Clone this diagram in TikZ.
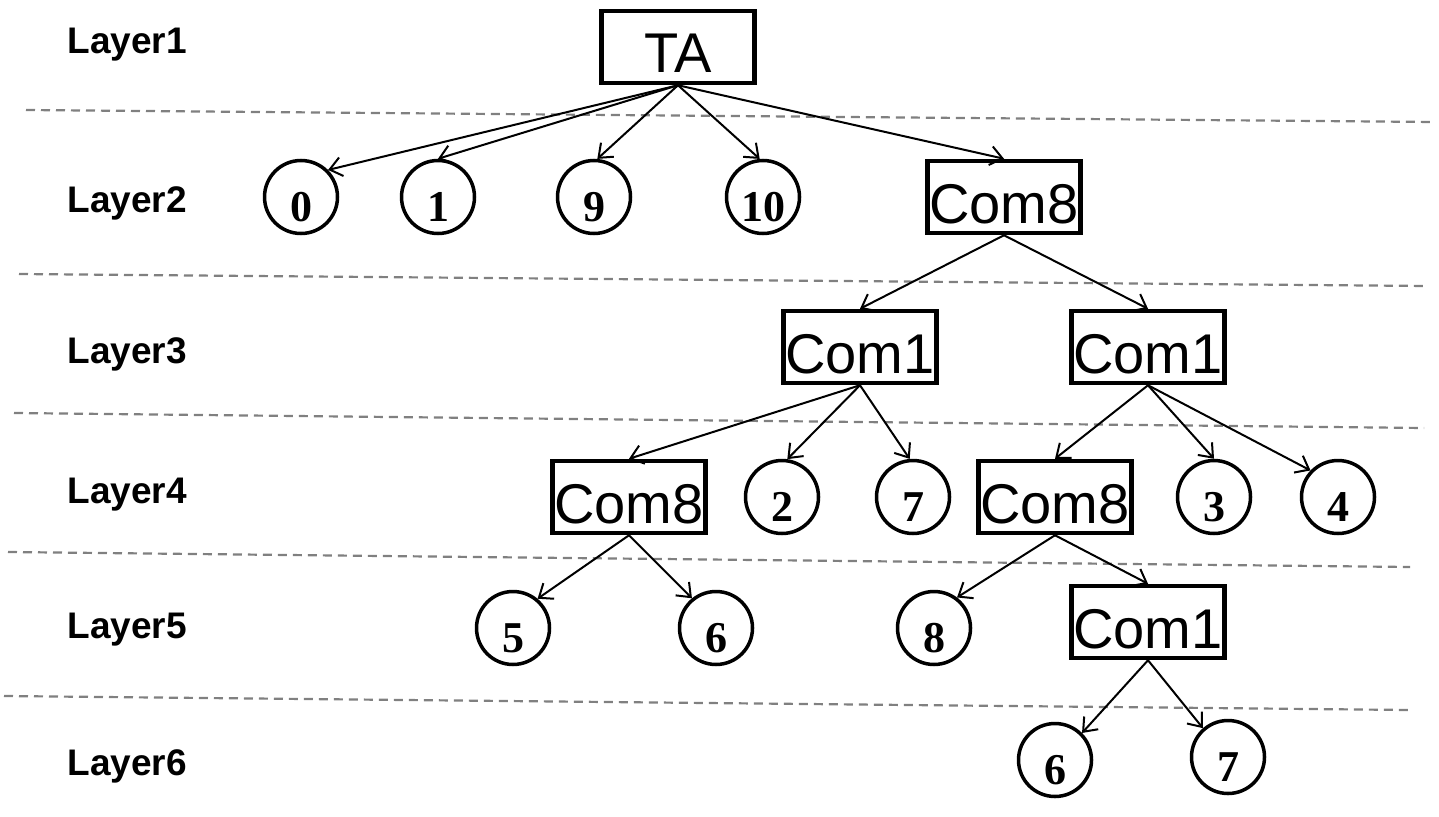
\documentclass[tikz,border=0pt]{standalone}
\usepackage{fontspec}
\setmainfont{Liberation Serif}
\newfontfamily\boxfont{Liberation Sans}
\usetikzlibrary{arrows.meta}
\newcommand\lowtxt[2]{\smash{\raisebox{#1}{#2}}}
\tikzset{
  cbox/.style={draw, line width=4.5pt, minimum width=153pt, minimum height=72pt, inner sep=0pt,
    font=\boxfont\fontsize{56}{60}\selectfont},
  cnode/.style={draw, circle, line width=3.5pt, minimum size=73pt, inner sep=0pt,
    font=\bfseries\fontsize{44}{48}\selectfont},
  layerlbl/.style={anchor=base west, font=\boxfont\bfseries\fontsize{37}{40}\selectfont},
  sep/.style={draw=gray, line width=2.2pt, dash pattern=on 9pt off 6pt},
  edge/.style={line width=2pt, -{Straight Barb[length=12pt,width=19pt,line width=2pt]}}
}
\newcommand\bt[1]{\lowtxt{-26pt}{#1}}
\newcommand\ct[1]{\lowtxt{-24pt}{#1}}
\begin{document}
\begin{tikzpicture}[x=1pt,y=-1pt]
\useasboundingbox (0,0) rectangle (1439,816);
% separators
\coordinate (s1a) at (26,110); \coordinate (s1b) at (1434,122);
\coordinate (s2a) at (19,274); \coordinate (s2b) at (1427,286);
\coordinate (s3a) at (14,413); \coordinate (s3b) at (1424,428);
\coordinate (s4a) at (8,552); \coordinate (s4b) at (1410,567);
\coordinate (s5a) at (4,696); \coordinate (s5b) at (1410,710);
\draw[sep] (s1a) -- (s1b);
\draw[sep] (s2a) -- (s2b);
\draw[sep] (s3a) -- (s3b);
\draw[sep] (s4a) -- (s4b);
\draw[sep] (s5a) -- (s5b);
% layer labels
\node[layerlbl] (L1) at (64,53) {Layer1};
\node[layerlbl] (L2) at (64,212) {Layer2};
\node[layerlbl] (L3) at (64,363) {Layer3};
\node[layerlbl] (L4) at (64,503) {Layer4};
\node[layerlbl] (L5) at (64,638) {Layer5};
\node[layerlbl] (L6) at (64,775) {Layer6};
% layer 1
\node[cbox] (TA) at (678,47) {\bt{TA}};
% layer 2
\node[cnode] (c0) at (301,197) {\ct{0}};
\node[cnode] (c1) at (438,197) {\ct{1}};
\node[cnode] (c9) at (594,197) {\ct{9}};
\node[cnode] (c10) at (763,197) {\ct{10}};
\node[cbox] (m8a) at (1004,197) {\bt{Com8}};
% layer 3
\node[cbox] (m1a) at (860,347) {\bt{Com1}};
\node[cbox] (m1b) at (1148,347) {\bt{Com1}};
% layer 4
\node[cbox] (m8b) at (629,497) {\bt{Com8}};
\node[cnode] (c2) at (782,497) {\ct{2}};
\node[cnode] (c7a) at (913,497) {\ct{7}};
\node[cbox] (m8c) at (1055,497) {\bt{Com8}};
\node[cnode] (c3) at (1214,497) {\ct{3}};
\node[cnode] (c4) at (1338,497) {\ct{4}};
% layer 5
\node[cnode] (c5) at (513,628) {\ct{5}};
\node[cnode] (c6a) at (716,628) {\ct{6}};
\node[cnode] (c8) at (934,628) {\ct{8}};
\node[cbox] (m1c) at (1148,622) {\bt{Com1}};
% layer 6
\node[cnode] (c6b) at (1055,760) {\ct{6}};
\node[cnode] (c7b) at (1228,757) {\ct{7}};
% edges
\draw[edge] (TA.south) -- (c0.45);
\draw[edge] (TA.south) -- (c1.90);
\draw[edge] (TA.south) -- (c9.85);
\draw[edge] (TA.south) -- (c10.95);
\draw[edge] (TA.south) -- (m8a.north);
\draw[edge] (m8a.south) -- (m1a.north);
\draw[edge] (m8a.south) -- (m1b.north);
\draw[edge] (m1a.south) -- (m8b.north);
\draw[edge] (m1a.south) -- (c2.82);
\draw[edge] (m1a.south) -- (c7a.95);
\draw[edge] (m1b.south) -- (m8c.north);
\draw[edge] (m1b.south) -- (c3.90);
\draw[edge] (m1b.south) -- (c4.136);
\draw[edge] (m8b.south) -- (c5.50);
\draw[edge] (m8b.south) -- (c6a.129);
\draw[edge] (m8c.south) -- (c8.53);
\draw[edge] (m8c.south) -- (m1c.north);
\draw[edge] (m1c.south) -- (c6b.45);
\draw[edge] (m1c.south) -- (c7b.131);
\end{tikzpicture}
\end{document}
